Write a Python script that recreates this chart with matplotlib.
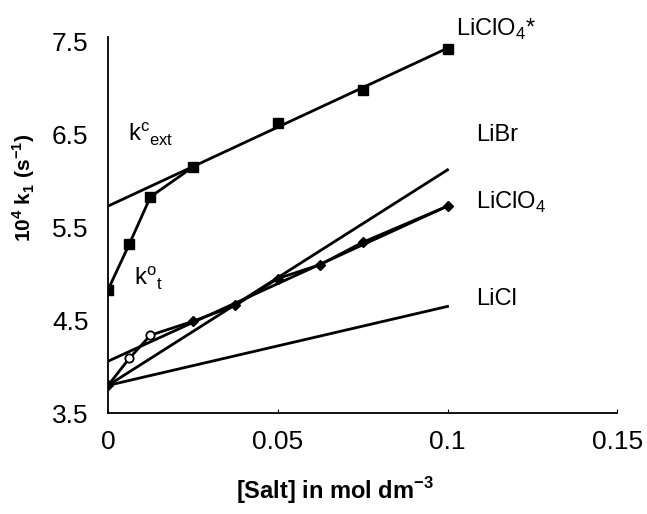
import matplotlib.pyplot as plt

plt.rcParams["font.family"] = ["Liberation Sans", "DejaVu Sans"]

# LiClO4* (squares), with extrapolated straight line
sq_x = [0, 0.00625, 0.0125, 0.025, 0.05, 0.075, 0.1]
sq_y = [4.83, 5.32, 5.83, 6.15, 6.62, 6.98, 7.42]
ext_x = [0, 0.1]
ext_y = [5.73, 7.43]

# LiClO4 (diamonds and open circles), with extrapolated straight line
dia_x = [0, 0.025, 0.0375, 0.05, 0.0625, 0.075, 0.1]
dia_y = [3.8, 4.49, 4.66, 4.95, 5.1, 5.34, 5.73]
circ_x = [0.00625, 0.0125]
circ_y = [4.09, 4.34]
clo4_line_x = [0, 0.1]
clo4_line_y = [4.06, 5.73]

# LiBr and LiCl straight lines
libr_x = [0, 0.1]
libr_y = [3.8, 6.12]
licl_x = [0, 0.1]
licl_y = [3.8, 4.65]

fig = plt.figure(figsize=(6.47, 5.14), dpi=100)
ax = fig.add_axes([0.167, 0.196, 0.787, 0.732])

LW = 2.0

# squares connected up to 0.025, then the straight line carries on
ax.plot(sq_x[:4], sq_y[:4], color="black", lw=LW)
ax.plot(ext_x, ext_y, color="black", lw=LW)
ax.plot(sq_x, sq_y, ls="none", marker="s", ms=6.5, color="black")

pts = sorted(zip(dia_x + circ_x, dia_y + circ_y))
ax.plot([p[0] for p in pts], [p[1] for p in pts], color="black", lw=LW)
ax.plot(dia_x, dia_y, ls="none", marker="D", ms=5.5, color="black")
ax.plot(circ_x, circ_y, ls="none", marker="o", ms=6, mfc="white", mec="black", mew=1.3)
ax.plot(clo4_line_x, clo4_line_y, color="black", lw=LW)

ax.plot(libr_x, libr_y, color="black", lw=LW)
ax.plot(licl_x, licl_y, color="black", lw=LW)

ax.set_xlim(0, 0.15)
ax.set_ylim(3.5, 7.55)
ax.set_xticks([0, 0.05, 0.1, 0.15])
ax.set_xticklabels(["0", "0.05", "0.1", "0.15"])
ax.set_yticks([3.5, 4.5, 5.5, 6.5, 7.5])
ax.tick_params(axis="x", direction="in", length=3, labelsize=19, pad=12)
ax.tick_params(axis="y", direction="in", length=0, labelsize=19, pad=14)
ax.spines["top"].set_visible(False)
ax.spines["right"].set_visible(False)
for s in ("left", "bottom"):
    ax.spines[s].set_linewidth(1.3)

ax.set_xlabel("[Salt] in mol dm$^{\\mathregular{-3}}$", fontsize=17, fontweight="bold")
ax.xaxis.set_label_coords(0.446, -0.165)
ax.set_ylabel("10$^{\\mathregular{4}}$ k$_{\\mathregular{1}}$ (s$^{\\mathregular{-1}}$)", fontsize=15, fontweight="bold")
ax.yaxis.set_label_coords(-0.14, 0.6)

ax.text(0.1025, 7.63, "LiClO$_{\\mathregular{4}}$*", fontsize=17, va="center", clip_on=False)
ax.text(0.1085, 6.5, "LiBr", fontsize=17, va="center")
ax.text(0.1085, 5.77, "LiClO$_{\\mathregular{4}}$", fontsize=17, va="center")
ax.text(0.1085, 4.73, "LiCl", fontsize=17, va="center")
ax.text(0.006, 6.5, "k$^{\\mathregular{c}}$$_{\\mathregular{ext}}$", fontsize=17, va="center")
ax.text(0.0075, 4.95, "k$^{\\mathregular{o}}$$_{\\mathregular{t}}$", fontsize=17, va="center")

fig.savefig("out.png", dpi=100)
